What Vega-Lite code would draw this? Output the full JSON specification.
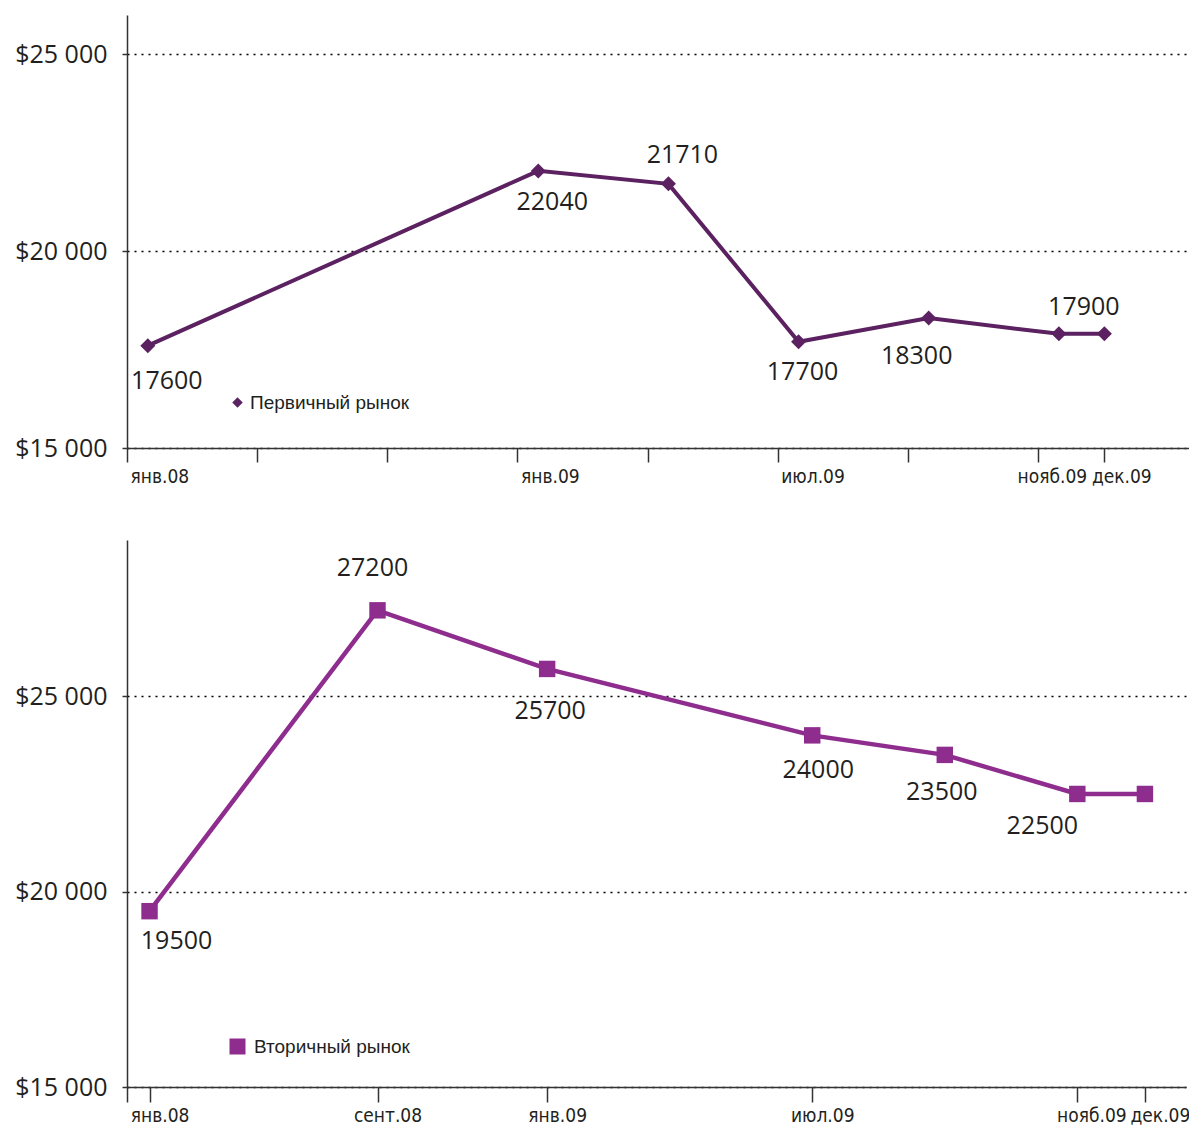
{
  "$schema": "https://vega.github.io/schema/vega-lite/v6.json",
  "padding": {"left": 12, "top": 15, "right": 0, "bottom": 0},
  "background": "white",
  "spacing": 50,
  "resolve": {"scale": {"color": "independent"}, "legend": {"color": "independent"}},
  "config": {
    "view": {"stroke": null},
    "font": "Open Sans",
    "text": {"font": "Open Sans", "fontSize": 25, "color": "#231f20", "align": "center", "baseline": "middle"},
    "axis": {
      "domainColor": "#333333", "tickColor": "#333333", "domainWidth": 1.5, "tickWidth": 1.5,
      "labelColor": "#231f20", "title": null
    }
  },
  "datasets": {
    "primary": [
      {"period": "янв.08", "slot": 0, "price": 17600},
      {"period": "янв.09", "slot": 3, "price": 22040},
      {"period": "апр.09", "slot": 4, "price": 21710},
      {"period": "июл.09", "slot": 5, "price": 17700},
      {"period": "сент.09", "slot": 6, "price": 18300},
      {"period": "нояб.09", "slot": 7, "price": 17900},
      {"period": "дек.09", "slot": 7.35, "price": 17900}
    ],
    "secondary": [
      {"period": "янв.08", "slot": 0, "price": 19500},
      {"period": "сент.08", "slot": 1.72, "price": 27200},
      {"period": "янв.09", "slot": 3, "price": 25700},
      {"period": "июл.09", "slot": 5, "price": 24000},
      {"period": "сент.09", "slot": 6, "price": 23500},
      {"period": "нояб.09", "slot": 7, "price": 22500},
      {"period": "дек.09", "slot": 7.51, "price": 22500}
    ]
  },
  "vconcat": [
    {
      "width": 1062,
      "height": 433,
      "data": {"name": "primary"},
      "encoding": {
        "x": {
          "field": "slot", "type": "quantitative",
          "scale": {"domain": [-0.16, 8.0], "nice": false, "zero": false},
          "axis": {
            "values": [-0.16, 0.84, 1.84, 2.84, 3.84, 4.84, 5.84, 6.84, 7.35],
            "labelExpr": "datum.value < 0 ? 'янв.08' : abs(datum.value - 2.84) < 0.01 ? 'янв.09' : abs(datum.value - 4.84) < 0.01 ? 'июл.09' : abs(datum.value - 6.84) < 0.01 ? 'нояб.09' : abs(datum.value - 7.35) < 0.01 ? 'дек.09' : ''",
            "grid": false, "tickSize": 14, "labelPadding": 5,
            "labelAlign": "left",
            "labelOffset": {"condition": [{"test": "datum.value > 7", "value": -13}, {"test": "datum.value > 6", "value": -21}], "value": 3},
            "labelFont": "'DejaVu Sans Condensed', 'Liberation Sans Narrow', 'Liberation Sans', sans-serif", "labelFontSize": 19,
            "labelOverlap": false, "labelFlush": false, "labelBound": false,
            "minExtent": 42, "maxExtent": 42
          }
        },
        "y": {
          "field": "price", "type": "quantitative",
          "scale": {"domain": [15000, 26000], "nice": false, "zero": false},
          "axis": {
            "values": [15000, 20000, 25000],
            "labelExpr": "'$' + replace(format(datum.value, ',d'), ',', ' ')",
            "grid": true, "gridDash": [2, 5], "gridColor": "#000000", "gridWidth": 1.5,
            "tickSize": 5, "labelPadding": 15,
            "labelFont": "Open Sans", "labelFontSize": 25,
            "minExtent": 115, "maxExtent": 115
          }
        }
      },
      "layer": [
        {"mark": {"type": "line", "color": "#5b2160", "strokeWidth": 4}},
        {
          "mark": {"type": "point", "shape": "diamond", "filled": true, "size": 225, "opacity": 1},
          "encoding": {
            "color": {
              "datum": "Первичный рынок",
              "scale": {"range": ["#5b2160"]},
              "legend": {
                "title": null, "orient": "none", "legendX": 101, "legendY": 378,
                "symbolType": "diamond", "symbolSize": 110, "symbolStrokeWidth": 0,
                "labelFont": "Liberation Sans", "labelFontSize": 19, "labelOffset": 3,
                "labelColor": "#231f20", "padding": 0
              }
            }
          }
        },
        {"transform": [{"filter": "datum.period == 'янв.08'"}], "mark": {"type": "text", "dx": 19, "dy": 35}, "encoding": {"text": {"field": "price", "type": "quantitative", "format": "d"}}},
        {"transform": [{"filter": "datum.period == 'янв.09'"}], "mark": {"type": "text", "dx": 14, "dy": 31}, "encoding": {"text": {"field": "price", "type": "quantitative", "format": "d"}}},
        {"transform": [{"filter": "datum.period == 'апр.09'"}], "mark": {"type": "text", "dx": 14, "dy": -29}, "encoding": {"text": {"field": "price", "type": "quantitative", "format": "d"}}},
        {"transform": [{"filter": "datum.period == 'июл.09'"}], "mark": {"type": "text", "dx": 4, "dy": 30}, "encoding": {"text": {"field": "price", "type": "quantitative", "format": "d"}}},
        {"transform": [{"filter": "datum.period == 'сент.09'"}], "mark": {"type": "text", "dx": -12, "dy": 38}, "encoding": {"text": {"field": "price", "type": "quantitative", "format": "d"}}},
        {"transform": [{"filter": "datum.period == 'нояб.09'"}], "mark": {"type": "text", "dx": 25, "dy": -27}, "encoding": {"text": {"field": "price", "type": "quantitative", "format": "d"}}}
      ]
    },
    {
      "width": 1059,
      "height": 547,
      "data": {"name": "secondary"},
      "encoding": {
        "x": {
          "field": "slot", "type": "quantitative",
          "scale": {"domain": [-0.17, 7.82], "nice": false, "zero": false},
          "axis": {
            "values": [-0.17, 0, 1.72, 3, 5, 7, 7.51],
            "labelExpr": "datum.value == 0 ? 'янв.08' : abs(datum.value - 1.72) < 0.01 ? 'сент.08' : datum.value == 3 ? 'янв.09' : datum.value == 5 ? 'июл.09' : datum.value == 7 ? 'нояб.09' : abs(datum.value - 7.51) < 0.01 ? 'дек.09' : ''",
            "grid": false, "tickSize": 15, "labelPadding": 4,
            "labelAlign": "center",
            "labelOffset": {"condition": [{"test": "datum.value > 7.2", "value": 15}, {"test": "datum.value > 6", "value": 14}], "value": 10},
            "labelFont": "'DejaVu Sans Condensed', 'Liberation Sans Narrow', 'Liberation Sans', sans-serif", "labelFontSize": 19,
            "labelOverlap": false, "labelFlush": false, "labelBound": false
          }
        },
        "y": {
          "field": "price", "type": "quantitative",
          "scale": {"domain": [15000, 29000], "nice": false, "zero": false},
          "axis": {
            "values": [15000, 20000, 25000],
            "labelExpr": "'$' + replace(format(datum.value, ',d'), ',', ' ')",
            "grid": true, "gridDash": [2, 5], "gridColor": "#000000", "gridWidth": 1.5,
            "tickSize": 5, "labelPadding": 15,
            "labelFont": "Open Sans", "labelFontSize": 25,
            "minExtent": 115, "maxExtent": 115
          }
        }
      },
      "layer": [
        {
          "data": {"values": [{}]},
          "mark": {"type": "rule", "color": "#333333", "strokeWidth": 1.5},
          "encoding": {"x": {"datum": 7.82}, "y": {"datum": 15000}, "y2": {"datum": 29000}}
        },
        {"mark": {"type": "line", "color": "#8e2d8e", "strokeWidth": 4.5}},
        {
          "mark": {"type": "point", "shape": "square", "filled": true, "size": 270, "opacity": 1},
          "encoding": {
            "color": {
              "datum": "Вторичный рынок",
              "scale": {"range": ["#8e2d8e"]},
              "legend": {
                "title": null, "orient": "none", "legendX": 101, "legendY": 497,
                "symbolType": "square", "symbolSize": 256, "symbolStrokeWidth": 0,
                "labelFont": "Liberation Sans", "labelFontSize": 19, "labelOffset": 7,
                "labelColor": "#231f20", "padding": 0
              }
            }
          }
        },
        {"transform": [{"filter": "datum.period == 'янв.08'"}], "mark": {"type": "text", "dx": 27, "dy": 30}, "encoding": {"text": {"field": "price", "type": "quantitative", "format": "d"}}},
        {"transform": [{"filter": "datum.period == 'сент.08'"}], "mark": {"type": "text", "dx": -5, "dy": -42}, "encoding": {"text": {"field": "price", "type": "quantitative", "format": "d"}}},
        {"transform": [{"filter": "datum.period == 'янв.09'"}], "mark": {"type": "text", "dx": 3, "dy": 42}, "encoding": {"text": {"field": "price", "type": "quantitative", "format": "d"}}},
        {"transform": [{"filter": "datum.period == 'июл.09'"}], "mark": {"type": "text", "dx": 6, "dy": 35}, "encoding": {"text": {"field": "price", "type": "quantitative", "format": "d"}}},
        {"transform": [{"filter": "datum.period == 'сент.09'"}], "mark": {"type": "text", "dx": -3, "dy": 37}, "encoding": {"text": {"field": "price", "type": "quantitative", "format": "d"}}},
        {"transform": [{"filter": "datum.period == 'нояб.09'"}], "mark": {"type": "text", "dx": -35, "dy": 32}, "encoding": {"text": {"field": "price", "type": "quantitative", "format": "d"}}}
      ]
    }
  ]
}
